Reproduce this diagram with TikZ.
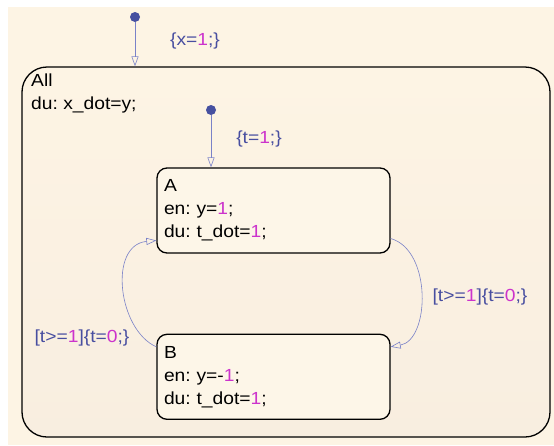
\documentclass[tikz,border=0pt]{standalone}
\usepackage{fontspec}
\setmainfont{Liberation Sans}[FakeStretch=1.1]
\usetikzlibrary{positioning, arrows.meta}

\definecolor{bgcol}{RGB}{253,244,228}
\definecolor{boxcol}{RGB}{253,246,232}
\definecolor{actcol}{RGB}{72,78,160}
\definecolor{numcol}{RGB}{204,51,204}
\definecolor{linecol}{RGB}{122,130,200}
\definecolor{dotcol}{RGB}{70,80,160}

\newcommand{\nval}[1]{\textcolor{numcol}{#1}}
\frenchspacing

\begin{document}
\begin{tikzpicture}[
    x=1pt, y=-1pt,
    font=\fontsize{17.5}{23}\selectfont,
    state/.style={
        draw,
        line width=1.3pt,
        rounded corners=10pt,
        fill=boxcol,
        align=left,
        text width=219pt,
        inner sep=7pt,
        minimum height=85pt
    },
    superstate/.style={
        draw,
        line width=1.3pt,
        rounded corners=25pt,
        top color=bgcol,
        bottom color=bgcol!85!brown!60!white
    },
    dot/.style={
        circle,
        fill=dotcol,
        inner sep=0pt,
        minimum size=10pt
    },
    trans/.style={
        draw=linecol,
        line width=0.6pt,
        -{Triangle[open, length=10pt, width=7pt]}
    },
    act/.style={text=actcol}
]

\useasboundingbox (0,0) rectangle (554,445);
\fill[bgcol] (8,7) rectangle (554,445);

% outer state
\node[superstate, minimum width=528pt, minimum height=370pt] (all) at (286,252) {};
\node[anchor=north west, align=left, inner sep=0pt] (alltext) at (31,74) {All\\du: x\_dot=y;};

% inner states
\node[state] (a) at (273.5,210.5) {A\\en: y=\nval{1};\\du: t\_dot=\nval{1};};
\node[state] (b) [below=80pt of a] {B\\en: y=-\nval{1};\\du: t\_dot=\nval{1};};

% default transitions
\node[dot] (d0) at (135,17) {};
\draw[trans] (d0) -- (d0 |- all.north);
\node[act] (l0) at (195,41) {\{x=\nval{1};\}};

\node[dot] (d1) at (211,110) {};
\draw[trans] (d1) -- (d1 |- a.north);
\node[act] (l1) at (259,139) {\{t=\nval{1};\}};

% A <-> B
\draw[trans] ([yshift=-28pt]a.east) .. controls (432,250) and (430,340) .. ([yshift=30pt]b.east);
\draw[trans] ([yshift=30pt]b.west) .. controls (118,330) and (108,245) .. ([yshift=-30pt]a.west);
\node[act] (l2) at (480,297) {[t>=\nval{1}]\{t=\nval{0};\}};
\node[act] (l3) at (82,338) {[t>=\nval{1}]\{t=\nval{0};\}};

\end{tikzpicture}
\end{document}
